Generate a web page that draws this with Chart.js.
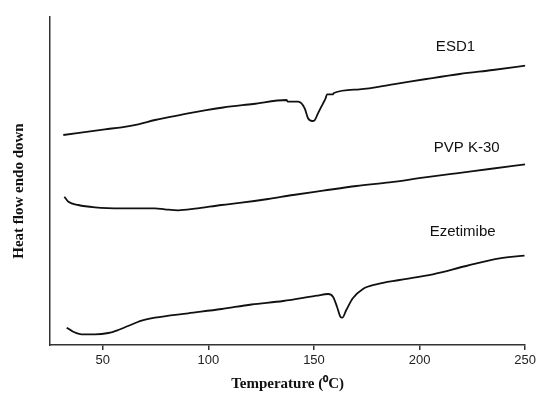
<!DOCTYPE html>
<html>
<head>
<meta charset="utf-8">
<script src="https://cdn.jsdelivr.net/npm/chart.js@4/dist/chart.umd.min.js"></script>
<style>
html,body{margin:0;padding:0;background:#fff;}
canvas{display:block;}
</style>
</head>
<body>
<canvas id="c" width="539" height="393"></canvas>
<script>
// Temperature (°C) sample points and heat-flow readings (arbitrary units, offset curves)
const esdT = [31.3, 51, 58.9, 66.8, 74.7, 82.6, 90.4, 98.3, 107, 121.2, 137, 137.6, 142.5, 145.6, 147.2, 149.2, 150.3, 151.9, 154.3, 155.5, 156.2, 159, 159.4, 171.6, 187.4, 203.2, 219, 234.7, 250.2];
const esdV = [210, 215.7, 217.7, 220.7, 225, 228.3, 231.7, 234.7, 237.5, 241, 245, 243.3, 243.3, 236.7, 226.7, 224, 224.7, 231.7, 241.7, 246.7, 250.7, 250.7, 252, 255.7, 260.7, 266, 271, 275, 279.3];

const pvpT = [31.8, 33.7, 38.4, 46.3, 58.9, 74.7, 79.4, 85.7, 93.6, 106.2, 115.7, 128.3, 140.1, 154.3, 170.1, 185.8, 201.6, 217.4, 233.1, 250];
const pvpV = [148.3, 143.3, 140, 137.7, 136.7, 136.7, 135.7, 134.7, 136.3, 140, 142.3, 146, 150, 154.3, 159, 162.7, 167.3, 171.7, 176, 180.7];

const ezeT = [32.9, 36, 40, 46.3, 52.6, 57.3, 62, 68.4, 74.7, 90.4, 106.2, 120.4, 135.4, 151.2, 156.7, 159, 160.9, 162.5, 163.4, 165.3, 168.4, 173.2, 179.5, 190.5, 206.3, 222.1, 237.9, 249.7];
const ezeV = [17.3, 13.3, 10.7, 10.7, 12, 15, 19, 24.3, 27.3, 31.7, 36, 40.5, 44, 49.3, 51, 48.3, 38.3, 28.3, 27.3, 35, 46.7, 56, 60.7, 65, 70.7, 79, 86.7, 89.3];

const seriesNames = ["ESD1", "PVP K-30", "Ezetimibe"];
const xTicks = [50, 100, 150, 200, 250];
const xTitle = "Temperature (\u2070C)";
const yTitle = "Heat flow endo down";

function pts(t, v) { return t.map((x, i) => ({x: x, y: v[i]})); }

const lineStyle = {
  borderColor: '#111',
  borderWidth: 1.8,
  pointRadius: 0,
  fill: false,
  cubicInterpolationMode: 'monotone'
};

const curveLabels = {
  id: 'curveLabels',
  afterDatasetsDraw(chart, args, opts) {
    const ctx = chart.ctx;
    const xs = chart.scales.x, ys = chart.scales.y;
    ctx.save();
    ctx.font = opts.font;
    ctx.fillStyle = opts.color;
    ctx.textAlign = 'center';
    ctx.textBaseline = 'middle';
    opts.anchors.forEach((a, i) => {
      ctx.fillText(seriesNames[i], xs.getPixelForValue(a[0]), ys.getPixelForValue(a[1]));
    });
    // vertical axis title
    ctx.translate(opts.yTitleX, ys.getPixelForValue(opts.yTitleV));
    ctx.rotate(-Math.PI / 2);
    ctx.font = opts.titleFont;
    ctx.fillText(yTitle, 0, 0);
    ctx.restore();
  }
};

new Chart(document.getElementById('c'), {
  type: 'line',
  data: {
    datasets: [
      Object.assign({label: seriesNames[0], data: pts(esdT, esdV)}, lineStyle),
      Object.assign({label: seriesNames[1], data: pts(pvpT, pvpV)}, lineStyle),
      Object.assign({label: seriesNames[2], data: pts(ezeT, ezeV)}, lineStyle)
    ]
  },
  options: {
    responsive: false,
    animation: false,
    devicePixelRatio: 1,
    layout: {padding: {left: 0, right: 13, top: 17, bottom: 0}},
    plugins: {
      legend: {display: false},
      tooltip: {enabled: false},
      curveLabels: {
        font: '15px "Liberation Sans", Arial, sans-serif',
        titleFont: 'bold 15px "Liberation Serif", "Times New Roman", serif',
        color: '#111',
        yTitleX: 19,
        yTitleV: 154,
        anchors: [[217, 298], [222.3, 197], [220.4, 113]]
      }
    },
    scales: {
      x: {
        type: 'linear',
        min: 25,
        max: 250,
        afterBuildTicks(s) { s.ticks = xTicks.map(v => ({value: v})); },
        afterFit(s) { s.height = 48; },
        grid: {display: true, drawOnChartArea: false, drawTicks: true, tickLength: 5, color: '#333', lineWidth: 1.5},
        border: {display: true, color: '#333', width: 1.5},
        ticks: {
          padding: 3,
          maxRotation: 0,
          color: '#222',
          font: {family: '"Liberation Sans", Arial, sans-serif', size: 13}
        },
        title: {
          display: true,
          text: xTitle,
          color: '#111',
          padding: {top: 0, bottom: 0},
          font: {family: '"Liberation Serif", "Times New Roman", serif', size: 15, weight: 'bold'}
        }
      },
      y: {
        type: 'linear',
        min: 0,
        max: 328,
        afterFit(s) { s.width = 50; },
        grid: {display: false},
        border: {display: true, color: '#333', width: 1.5},
        ticks: {display: false},
        title: {display: false}
      }
    }
  },
  plugins: [curveLabels]
});
</script>
</body>
</html>
